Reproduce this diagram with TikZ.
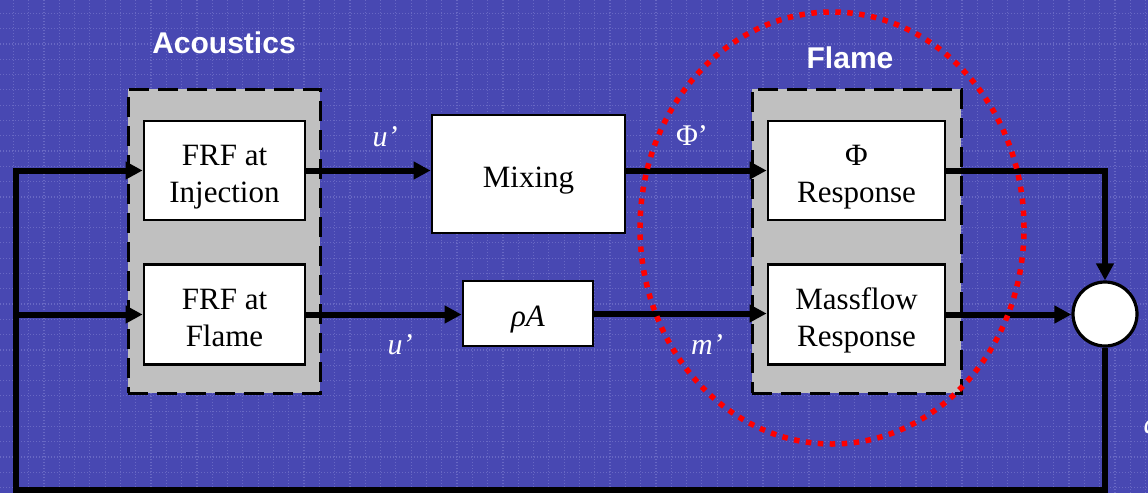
\documentclass[tikz,border=0pt]{standalone}
\usepackage{fontspec}
\setmainfont{Liberation Serif}
\newfontfamily\headfont{Liberation Sans}
\usetikzlibrary{arrows.meta}

\definecolor{bgblue}{RGB}{72,72,178}
\definecolor{gridblue}{RGB}{104,104,196}
\definecolor{groupgray}{RGB}{192,192,192}

% block text: stacked lines, set slightly below the geometric centre
\newcommand\blocklines[1]{\raisebox{-6pt}[\height][\depth]{\begin{tabular}{@{}c@{}}#1\end{tabular}}}

\tikzset{
  gridline/.style={draw=gridblue, line width=1.2pt, dash pattern=on 1.4pt off 1.6pt},
  groupbox/.style={draw=black, fill=groupgray, line width=3pt,
    dash pattern=on 20pt off 9pt, inner sep=0pt},
  block/.style={draw=black, fill=white, line width=2.8pt, inner sep=0pt,
    font=\fontsize{31}{37}\selectfont},
  sumnode/.style={circle, draw=black, fill=white, line width=3.2pt,
    minimum size=64pt, inner sep=0pt},
  flow/.style={draw=black, line width=6pt,
    -{Triangle[length=17pt,width=17pt]}},
  signal/.style={text=white, anchor=base, font=\fontsize{30}{36}\selectfont},
  grouptitle/.style={text=white, anchor=base, font=\headfont\bfseries\fontsize{30}{36}\selectfont},
  zone/.style={draw=red, line width=5.5pt, dash pattern=on 5.5pt off 6.5pt}
}

\begin{document}
\begin{tikzpicture}[x=1pt, y=-1pt]
  \useasboundingbox (0,0) rectangle (1148,493);
  \fill[bgblue] (0,0) rectangle (1148,493);

  % faint dotted background grid
  \foreach \i in {0,...,74}
    \draw[gridline] ({13.3+15.3*\i},0) -- ++(0,493);
  \foreach \j in {0,...,31}
    \draw[gridline] (0,{13.3+15.3*\j}) -- ++(1148,0);

  % grouping panels
  \node[groupbox, minimum width=192pt, minimum height=304pt] (acgroup) at (224,241) {};
  \node[groupbox, minimum width=209pt, minimum height=304pt] (flgroup) at (856.5,241) {};

  \node[grouptitle] (actitle) at (224,53) {Acoustics};
  \node[grouptitle] (fltitle) at (850,68) {Flame};

  % blocks
  \node[block, minimum width=161pt, minimum height=99pt] (frfinj) at (224.5,170.5) {\blocklines{FRF at\\Injection}};
  \node[block, minimum width=161pt, minimum height=100pt] (frfflame) at (224.5,314.5) {\blocklines{FRF at\\Flame}};
  \node[block, minimum width=193pt, minimum height=118pt] (mixing) at (528.5,174) {\blocklines{Mixing}};
  \node[block, minimum width=130pt, minimum height=65pt] (rhoa) at (528,313.5) {\blocklines{\itshape ρA}};
  \node[block, minimum width=177pt, minimum height=99pt] (phiresp) at (856.5,170.5) {\blocklines{Φ\\Response}};
  \node[block, minimum width=177pt, minimum height=100pt] (massresp) at (856.5,314.5) {\blocklines{Massflow\\Response}};
  \node[sumnode] (sum) at (1105,314) {};

  % feedback path corners
  \coordinate (fbbr) at (1105,490);
  \coordinate (fbbl) at (16,490);
  \coordinate (fbtl) at (16,170.5);

  % forward paths
  \draw[flow] (frfinj.east) -- (frfinj.east -| mixing.west);
  \draw[flow] (mixing.east |- phiresp.west) -- (phiresp.west);
  \draw[flow] (phiresp.east) -| (sum.north);
  \draw[flow] (frfflame.east) -- (frfflame.east -| rhoa.west);
  \draw[flow] (rhoa.east) -- (rhoa.east -| massresp.west);
  \draw[flow] (massresp.east) -- (massresp.east -| sum.west);

  % feedback loop
  \draw[flow] (sum.south) -- (fbbr) -- (fbbl) -- (fbtl) -- (frfinj.west);
  \draw[flow] (fbbl |- frfflame.west) -- (frfflame.west);

  % signal labels
  \node[signal] (lu1) at (385,146) {\itshape u’};
  \node[signal] (lu2) at (400,354) {\itshape u’};
  \node[signal] (lphi) at (692,145) {Φ’};
  \node[signal] (lm) at (707,354) {\itshape m’};
  \node[signal, anchor=base west] (lq) at (1140,433) {\itshape q’};

  % flame zone highlight
  \draw[zone] (832,228) ellipse [x radius=192pt, y radius=216pt];
\end{tikzpicture}
\end{document}
